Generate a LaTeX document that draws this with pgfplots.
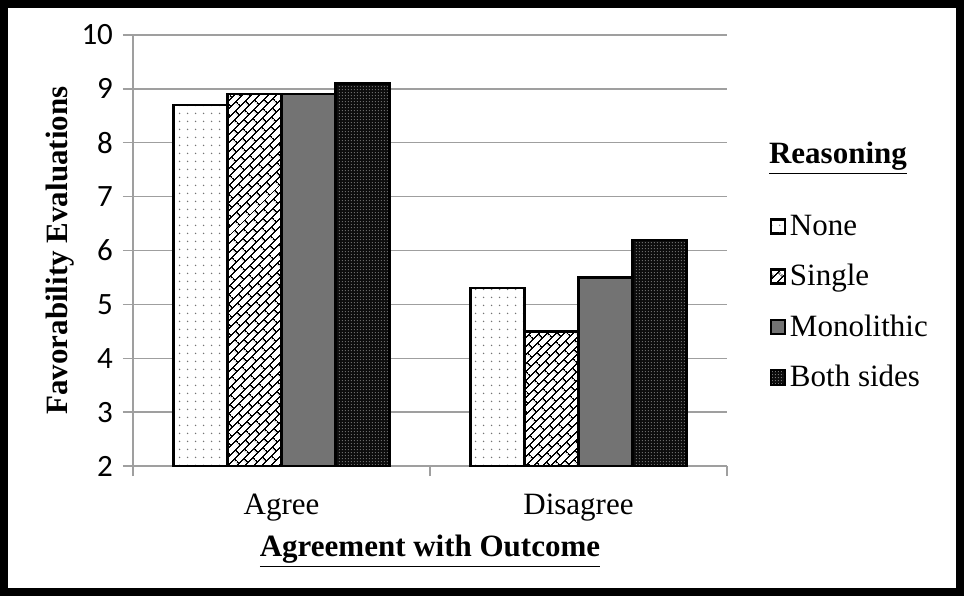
\documentclass[border=0pt]{standalone}
\usepackage{fontspec}
\setmainfont{Liberation Serif}
\newfontfamily\calibri{Carlito}
\usepackage{pgfplots}
\pgfplotsset{compat=1.18}
\usetikzlibrary{patterns,patterns.meta}

\tikzdeclarepattern{
  name=dbricks, type=uncolored,
  bounding box={(0,0) and (7pt,6pt)},
  tile size={(7pt,6pt)},
  tile transformation={rotate=45},
  code={
    \draw[line width=0.7pt] (0,1.5pt)--(7pt,1.5pt) (0,4.5pt)--(7pt,4.5pt)
      (1.75pt,1.5pt)--(1.75pt,4.5pt) (5.25pt,4.5pt)--(5.25pt,6pt) (5.25pt,0pt)--(5.25pt,1.5pt);
  }
}
\tikzdeclarepattern{
  name=sdots, type=uncolored,
  bounding box={(0,0) and (4pt,4pt)},
  tile size={(4pt,4pt)},
  code={\fill (2pt,2pt) circle (0.45pt);}
}
\tikzdeclarepattern{
  name=fdots, type=uncolored,
  bounding box={(0,0) and (1.6pt,1.6pt)},
  tile size={(1.6pt,1.6pt)},
  code={\fill (0.8pt,0.8pt) circle (0.33pt);}
}

\pgfplotsset{
  barleg/.style={legend image code/.code={\draw[##1, line width=0.9pt] (0pt,-3.5pt) rectangle (7pt,3.5pt);}}
}

\begin{document}
\begin{tikzpicture}
\useasboundingbox (-66.5pt,-65pt) rectangle (415.5pt,233pt);
\fill[white] (-66.5pt,-65pt) rectangle (415.5pt,233pt);
\draw[line width=4pt] (-64.5pt,-63pt) rectangle (413.5pt,231pt);
\begin{axis}[
  at={(0,0)}, anchor=south west,
  scale only axis, width=297pt, height=215.5pt,
  ybar=0pt, bar width=0.182,
  xmin=-0.5, xmax=1.5, ymin=2, ymax=10,
  xtick={-0.5,0.5,1.5}, xticklabels={},
  extra x ticks={0,1}, extra x tick labels={Agree,Disagree},
  extra x tick style={major tick length=0pt, grid=none,
     tick label style={font=\fontsize{15.5}{17}\selectfont, yshift=-10.5pt}},
  ytick={2,3,4,5,6,7,8,9,10},
  ymajorgrids, grid style={gray!75, line width=0.7pt},
  axis x line*=bottom, axis y line*=left,
  axis line style={gray!75, line width=0.7pt},
  tick style={gray!75, line width=0.7pt},
  tick align=outside, major tick length=5pt,
  /pgf/number format/assume math mode=true,
  yticklabel style={font=\calibri\fontsize{15.5}{17}\selectfont, xshift=-1.5pt},
  ylabel={\textbf{Favorability Evaluations}},
  ylabel style={font=\fontsize{15.5}{17}\selectfont, at={(axis description cs:0,0.5)}, anchor=south, yshift=26pt},
  xlabel={\underline{\textbf{Agreement with Outcome}}},
  xlabel style={font=\fontsize{15.5}{17}\selectfont, at={(axis description cs:0.5,0)}, anchor=center, yshift=-42.5pt},
  legend style={at={(1.072,0.593)}, anchor=north west, draw=none, fill=none,
     inner sep=0pt, row sep=9pt, font=\fontsize{15.5}{17}\selectfont,
     /tikz/every even column/.style={column sep=2pt}},
  legend cell align=left,
]
\addplot[barleg, draw=black, line width=1.2pt, preaction={fill=white}, pattern=sdots, pattern color=black!55]
  coordinates {(0,8.7) (1,5.3)};
\addplot[barleg, draw=black, line width=1.2pt, preaction={fill=white}, pattern=dbricks, pattern color=black]
  coordinates {(0,8.9) (1,4.5)};
\addplot[barleg, draw=black, line width=1.2pt, fill=black!55]
  coordinates {(0,8.9) (1,5.5)};
\addplot[barleg, draw=black, line width=1.2pt, preaction={fill=black!95}, pattern=fdots, pattern color=black!45]
  coordinates {(0,9.1) (1,6.2)};
\legend{None,Single,Monolithic,Both sides}
\end{axis}
\node[anchor=west, font=\fontsize{15.5}{17}\selectfont] at (314.5pt,154pt) {\underline{\textbf{Reasoning}}};
\end{tikzpicture}
\end{document}
